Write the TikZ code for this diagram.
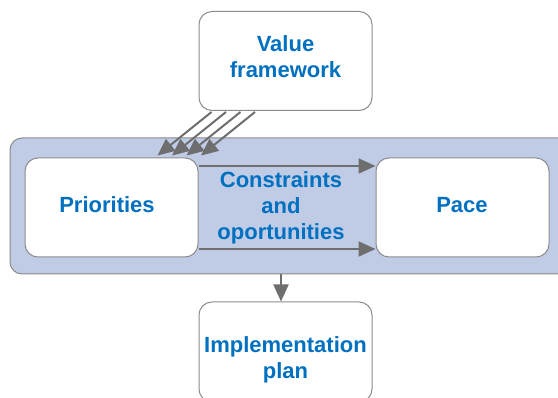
\documentclass[tikz,border=0pt]{standalone}
\usepackage{fontspec}
\setmainfont{Liberation Sans}
\usetikzlibrary{arrows.meta,calc}
\definecolor{txtblue}{RGB}{0,112,192}
\definecolor{panel}{RGB}{192,203,230}
\definecolor{edge}{RGB}{140,140,140}
\definecolor{conn}{RGB}{110,110,110}
\tikzset{
  box/.style={draw=edge, line width=1pt, fill=white, rounded corners=13pt,
    minimum width=173pt, minimum height=99pt, inner sep=0pt},
  container/.style={draw=edge, line width=1pt, fill=panel, rounded corners=12pt,
    minimum width=570pt, minimum height=136pt, inner sep=0pt},
  lbl/.style={font=\fontsize{22}{26}\selectfont\bfseries, text=txtblue, align=center},
  conn/.style={draw=conn, line width=2pt, -{Triangle[length=17pt,width=15pt]}},
}
\begin{document}
\begin{tikzpicture}[x=1pt,y=-1pt]
\useasboundingbox (0,0) rectangle (558,398);
\node[container] (cont) at (295,206) {};
\node[box] (vf) at (285.5,61) {};
\node[lbl] (vft) at (285.5,57) {Value\\framework};
\node[box] (pri) at (111.5,207.5) {};
\node[lbl] (prit) at (107,205) {Priorities};
\node[box] (pace) at (462.5,207.5) {};
\node[lbl] (pacet) at (462,205) {Pace};
\node[box, minimum height=100pt] (impl) at (285.5,352) {};
\node[lbl] (implt) at (285.5,360) {Implementation\\plan};
\node[lbl] (cot) at (281,207.5) {Constraints\\and\\oportunities};
% arrows from value framework to priorities
\foreach \i in {0,1,2,3}{
  \draw[conn] ($(vf.south west)+(13+14.5*\i,1)$) -- ($(pri.north east)+(-41+14.5*\i,-2)$);
}
\draw[conn] (pri.north east |- 0,166) -- (pace.west |- 0,166);
\draw[conn] (pri.south east |- 0,249) -- (pace.west |- 0,249);
\draw[conn] (cont.south -| 281,0) -- (impl.north -| 281,0);
\end{tikzpicture}
\end{document}
